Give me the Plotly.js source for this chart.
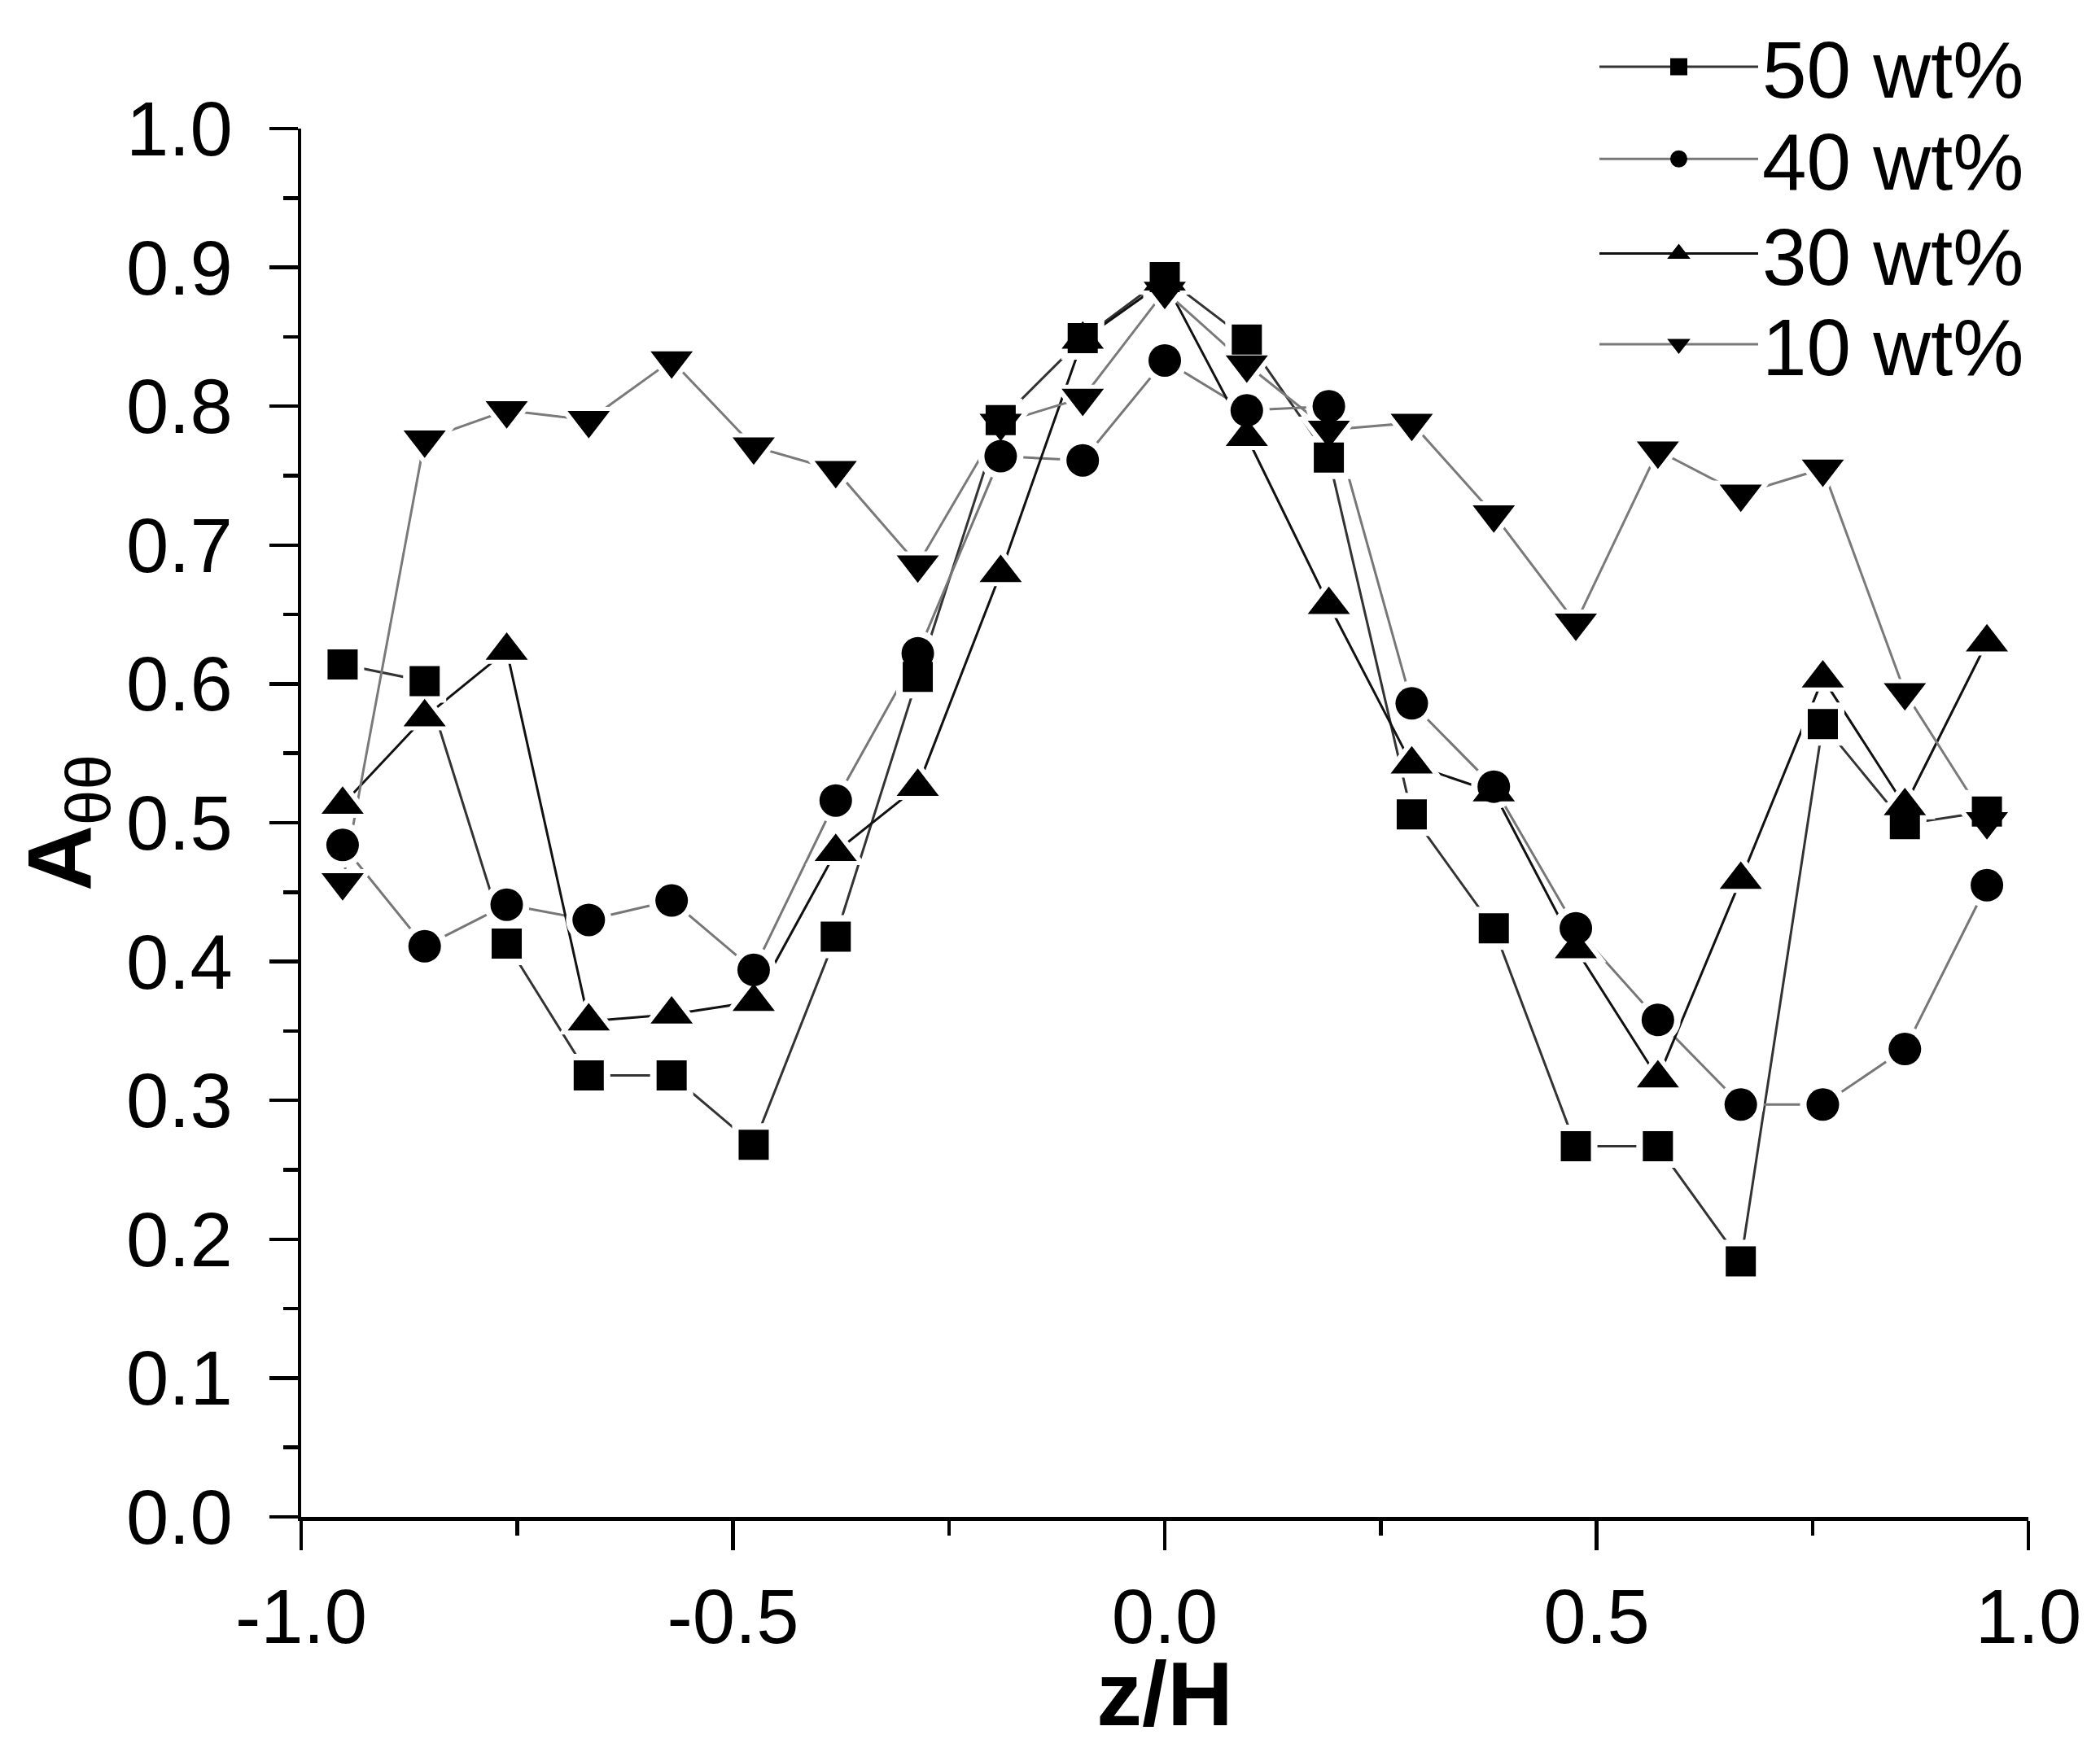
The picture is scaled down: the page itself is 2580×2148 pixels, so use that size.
<!DOCTYPE html>
<html>
<head>
<meta charset="utf-8">
<script src="https://cdn.plot.ly/plotly-3.0.1.min.js"></script>
<style>
  html, body { margin: 0; padding: 0; background: #fff; }
  #plot { width: 2580px; height: 2148px; }
</style>
</head>
<body>
<div id="plot"></div>
<script>
// z/H positions (21 slices)
var zh = [-0.952, -0.857, -0.762, -0.667, -0.571, -0.476, -0.381, -0.286, -0.190, -0.095,
          0.000, 0.095, 0.190, 0.286, 0.381, 0.476, 0.571, 0.667, 0.762, 0.857, 0.952];

// A_theta-theta
var wt50 = [0.614, 0.602, 0.413, 0.318, 0.318, 0.268, 0.418, 0.605, 0.790, 0.849,
            0.893, 0.848, 0.763, 0.506, 0.424, 0.267, 0.267, 0.184, 0.571, 0.499, 0.508];
var wt40 = [0.484, 0.411, 0.441, 0.430, 0.444, 0.394, 0.516, 0.622, 0.764, 0.761,
            0.833, 0.797, 0.800, 0.586, 0.526, 0.424, 0.358, 0.297, 0.297, 0.337, 0.455];
var wt30 = [0.513, 0.576, 0.624, 0.357, 0.362, 0.371, 0.479, 0.526, 0.680, 0.848,
            0.890, 0.778, 0.657, 0.542, 0.522, 0.409, 0.316, 0.459, 0.604, 0.512, 0.630];
var wt10 = [0.457, 0.776, 0.797, 0.790, 0.833, 0.771, 0.754, 0.686, 0.788, 0.806,
            0.883, 0.830, 0.783, 0.788, 0.722, 0.644, 0.768, 0.737, 0.755, 0.594, 0.501];

var names = ['50 wt%', '40 wt%', '30 wt%', '10 wt%'];
var xtick_vals = [-1.0, -0.5, 0.0, 0.5, 1.0];
var xtick_text = ['-1.0', '-0.5', '0.0', '0.5', '1.0'];

var font = 'Liberation Sans, Arial, sans-serif';

var series = [
   {name: names[0], y: wt50, symbol: 'square',        size: 37, color: '#333333', legend: 'legend'},
   {name: names[1], y: wt40, symbol: 'circle',        size: 40, color: '#777777', legend: 'legend2'},
   {name: names[2], y: wt30, symbol: 'triangle-up',   size: 45, color: '#111111', legend: 'legend3'},
   {name: names[3], y: wt10, symbol: 'triangle-down', size: 45, color: '#7a7a7a', legend: 'legend4'}
];

var traces = [];
// connecting lines (these carry the legend entries)
series.forEach(function(s) {
   traces.push({
      name: s.name, x: zh, y: s.y,
      mode: 'lines+markers', cliponaxis: false, legend: s.legend,
      line: {width: 3, color: s.color},
      marker: {symbol: s.symbol, size: s.size, color: 'black', line: {width: 5, color: 'black'}}
   });
});
// white halos so the lines stop short of the symbols
series.forEach(function(s) {
   traces.push({
      x: zh, y: s.y, mode: 'markers', cliponaxis: false, showlegend: false, hoverinfo: 'skip',
      marker: {symbol: s.symbol, size: s.size + (s.symbol.indexOf('triangle') === 0 ? 20 : 16), color: 'white'}
   });
});
// the symbols themselves
series.forEach(function(s) {
   traces.push({
      x: zh, y: s.y, mode: 'markers', cliponaxis: false, showlegend: false, hoverinfo: 'skip',
      marker: {symbol: s.symbol, size: s.size, color: 'black'}
   });
});

function legend_at(y) {
   return {
      x: 1, xanchor: 'right',
      y: y, yanchor: 'middle',
      bgcolor: 'rgba(0,0,0,0)',
      font: {family: font, size: 98, color: 'black'},
      itemwidth: 195
   };
}

var layout = {
   width: 2580,
   height: 2148,
   paper_bgcolor: 'white',
   plot_bgcolor: 'white',
   margin: {l: 370, r: 88, t: 153, b: 284},
   font: {family: font, color: 'black'},
   showlegend: true,
   legend: legend_at(1.0444),
   legend2: legend_at(0.978),
   legend3: legend_at(0.9098),
   legend4: legend_at(0.8445),
   xaxis: {
      range: [-1, 1],
      tickvals: xtick_vals,
      ticktext: xtick_text,
      ticks: 'outside',
      ticklen: 36,
      tickwidth: 4.5,
      tickcolor: 'black',
      ticklabelstandoff: 2,
      showline: true,
      linewidth: 4.5,
      linecolor: 'black',
      showgrid: false,
      zeroline: false,
      tickfont: {family: font, size: 94},
      minor: {dtick: 0.25, ticks: 'outside', ticklen: 18, tickwidth: 4.5, tickcolor: 'black', showgrid: false}
   },
   yaxis: {
      range: [0, 1],
      dtick: 0.1,
      tickformat: '.1f',
      ticks: 'outside',
      ticklen: 35,
      tickwidth: 4.5,
      tickcolor: 'black',
      ticklabelstandoff: 26,
      showline: true,
      linewidth: 4.5,
      linecolor: 'black',
      showgrid: false,
      zeroline: false,
      tickfont: {family: font, size: 94},
      minor: {dtick: 0.05, ticks: 'outside', ticklen: 18, tickwidth: 4.5, tickcolor: 'black', showgrid: false},
      title: {text: '<b>A</b><sub>θθ</sub>', font: {family: font, size: 112}}
   },
   // x axis title, placed a touch lower than plotly's default slot
   annotations: [{
      text: '<b>z/H</b>',
      xref: 'paper', yref: 'paper',
      x: 0.5, xanchor: 'center',
      y: -0.1276, yanchor: 'middle',
      showarrow: false,
      font: {family: font, size: 112, color: 'black'}
   }]
};

Plotly.newPlot('plot', traces, layout, {staticPlot: true});
</script>
</body>
</html>
